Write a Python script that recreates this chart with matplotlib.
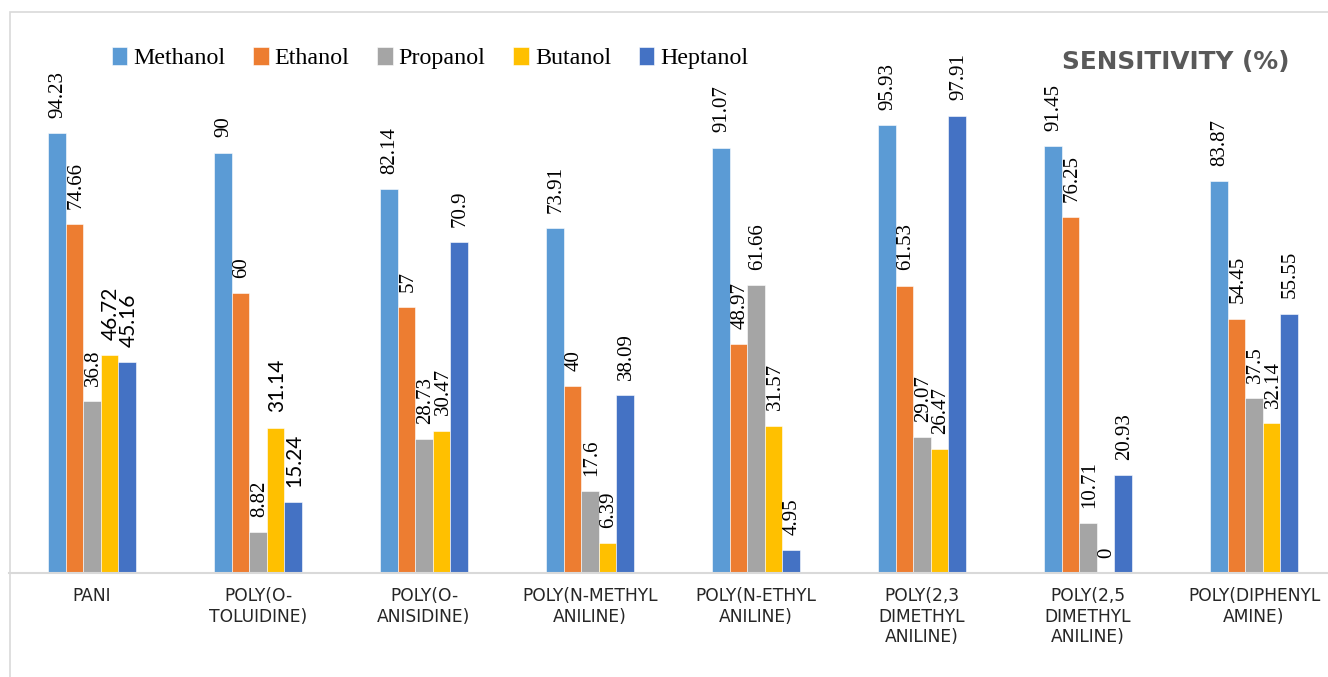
import matplotlib
matplotlib.use("Agg")
import matplotlib.pyplot as plt
import numpy as np
from matplotlib.patches import Rectangle

# Data
categories = [
    "PANI",
    "POLY(O-\nTOLUIDINE)",
    "POLY(O-\nANISIDINE)",
    "POLY(N-METHYL\nANILINE)",
    "POLY(N-ETHYL\nANILINE)",
    "POLY(2,3\nDIMETHYL\nANILINE)",
    "POLY(2,5\nDIMETHYL\nANILINE)",
    "POLY(DIPHENYL\nAMINE)",
]
series_names = ["Methanol", "Ethanol", "Propanol", "Butanol", "Heptanol"]
methanol = [94.23, 90, 82.14, 73.91, 91.07, 95.93, 91.45, 83.87]
ethanol = [74.66, 60, 57, 40, 48.97, 61.53, 76.25, 54.45]
propanol = [36.8, 8.82, 28.73, 17.6, 61.66, 29.07, 10.71, 37.5]
butanol = [46.72, 31.14, 30.47, 6.39, 31.57, 26.47, 0, 32.14]
heptanol = [45.16, 15.24, 70.9, 38.09, 4.95, 97.91, 20.93, 55.55]
title = "SENSITIVITY (%)"

series = [methanol, ethanol, propanol, butanol, heptanol]
colors = ["#5B9BD5", "#ED7D31", "#A5A5A5", "#FFC000", "#4472C4"]

W, H = 1328, 677
fig = plt.figure(figsize=(W / 100, H / 100), dpi=100)

# outer chart frame
fig.patches.append(Rectangle((10 / W, -0.2), 2.0, 1.2 - 12 / H,
                             transform=fig.transFigure, fill=False,
                             edgecolor="#D9D9D9", linewidth=1.2, zorder=0))

ax_left, ax_right = 9 / W, 1337 / W
ax_bottom, ax_top = (H - 573) / H, (H - 40) / H
ax = fig.add_axes([ax_left, ax_bottom, ax_right - ax_left, ax_top - ax_bottom])
ax.set_facecolor("none")

px_per_unit = 4.67
ax.set_ylim(0, (573 - 40) / px_per_unit)
ax.set_xlim(-0.5, len(categories) - 0.5)

x = np.arange(len(categories))
bw = 0.106
sans_labels = {(3, 0), (3, 1), (4, 0), (4, 1)}
for i, (vals, col, name) in enumerate(zip(series, colors, series_names)):
    xs = x + (i - 2) * bw
    ax.bar(xs, vals, width=bw, color=col, label=name, edgecolor="white",
           linewidth=0.4, zorder=2)
    for j, (xx, v) in enumerate(zip(xs, vals)):
        fam = ["Lato", "DejaVu Sans"] if (i, j) in sans_labels else ["Liberation Serif", "DejaVu Serif"]
        ax.annotate(f"{v:g}", (xx, v), xytext=(1, 11), textcoords="offset points",
                    rotation=90, ha="center", va="bottom", fontsize=15,
                    family=fam, color="#000000", zorder=3)

ax.set_xticks(x)
ax.set_xticklabels(categories, fontsize=12.3, color="#262626",
                   family="DejaVu Sans", linespacing=1.2)
ax.tick_params(axis="x", length=0, pad=10)
ax.set_yticks([])
for s in ["top", "right", "left"]:
    ax.spines[s].set_visible(False)
ax.spines["bottom"].set_color("#D9D9D9")
ax.spines["bottom"].set_linewidth(1.5)

fig.legend(loc="center", bbox_to_anchor=(430 / W, 1 - 58 / H), ncol=5,
           frameon=False, prop={"family": "Liberation Serif", "size": 17.3},
           handlelength=0.65, handleheight=0.8, handletextpad=0.25,
           columnspacing=1.15)

fig.text(1290 / W, 1 - 62 / H, title, ha="right", va="center",
         fontsize=17.8, fontweight="bold", color="#595959", family="DejaVu Sans")

fig.savefig("out.png", dpi=100)
